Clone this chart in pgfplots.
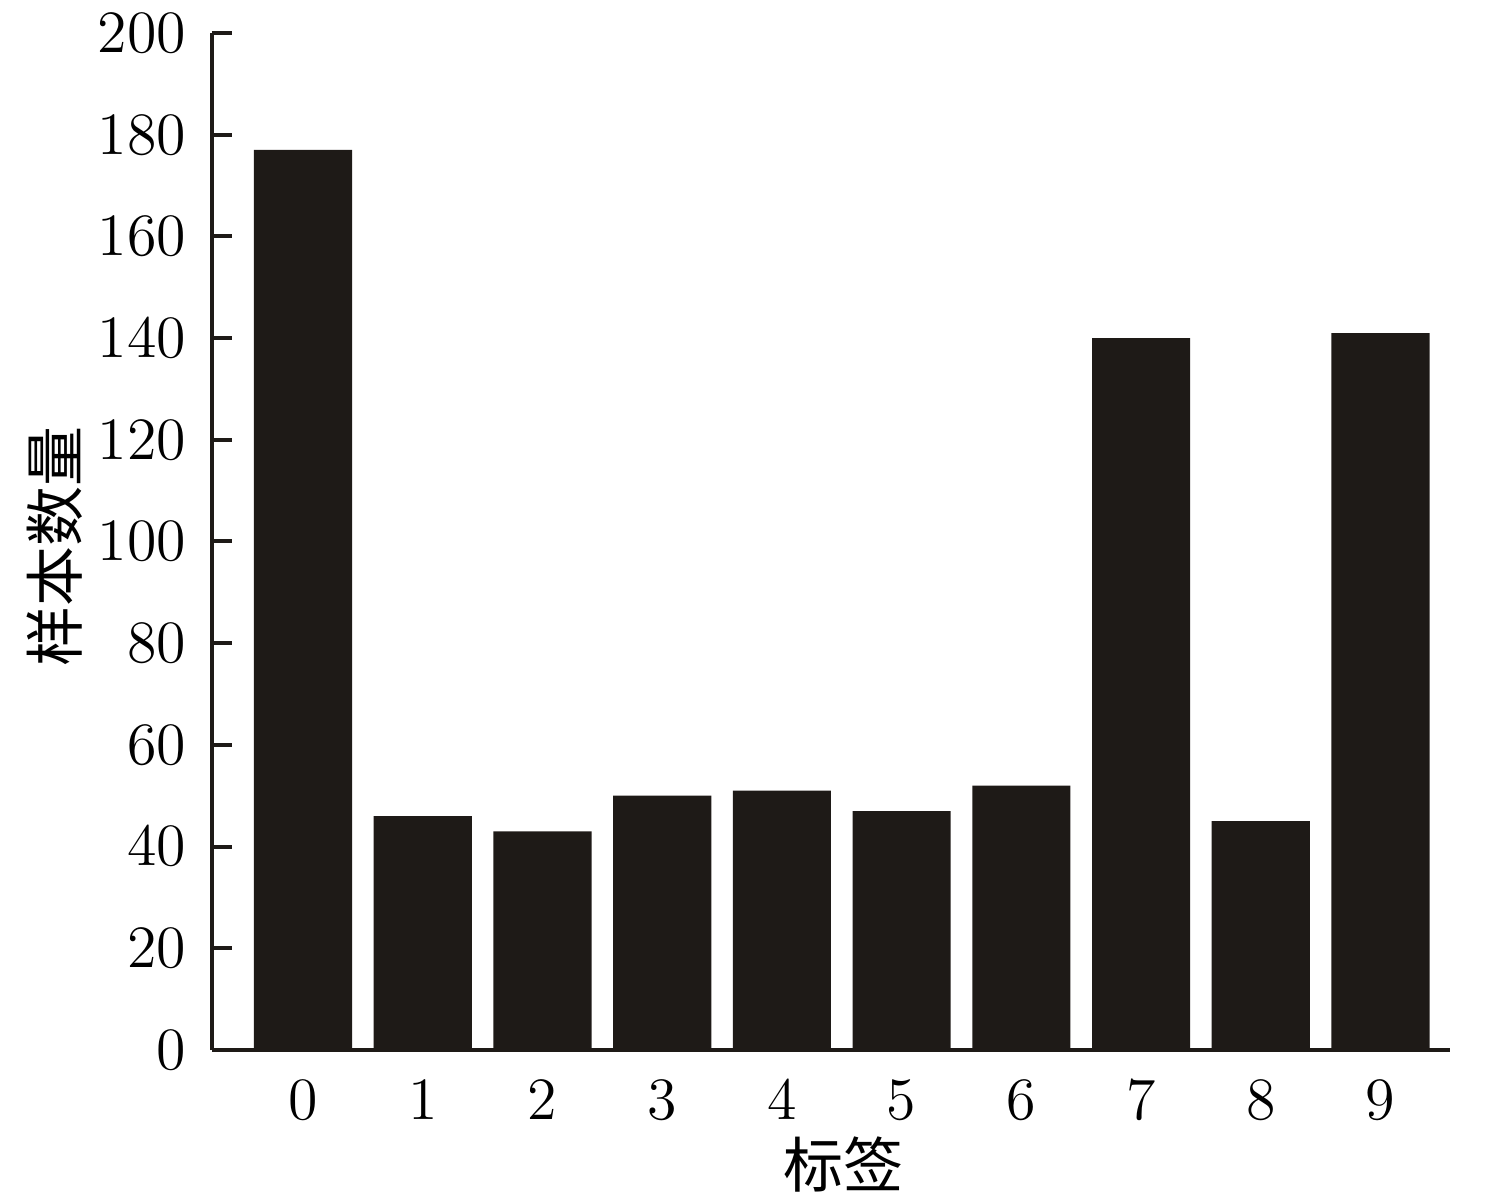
\documentclass[border=0pt]{standalone}
\usepackage{pgfplots}
\pgfplotsset{compat=1.18}
\usepackage{fontspec}
\newfontfamily\cjk{Noto Sans CJK SC}
\definecolor{barc}{RGB}{30,26,23}
\begin{document}
\begin{tikzpicture}
\begin{axis}[
  at={(0,0)}, anchor=south west,
  scale only axis,
  width=247.6pt, height=203.4pt,
  xmin=-0.76, xmax=9.58,
  ymin=0, ymax=200,
  axis lines*=left,
  axis line style={line width=0.8pt, color=barc, -},
  xtick={0,...,9},
  xtick style={draw=none},
  ytick={0,20,...,200},
  ytick style={line width=0.8pt, color=barc},
  tick align=inside,
  major tick length=4pt,
  tick label style={font=\fontsize{12}{14}\selectfont},
  xticklabel style={anchor=center, yshift=-10pt},
  yticklabel style={xshift=-1.7pt},
  xlabel={\cjk 标签},
  ylabel={\cjk 样本数量},
  label style={font=\fontsize{12}{14}\selectfont},
  xlabel style={at={(axis description cs:0.51,-0.113)}, anchor=center},
  ylabel style={at={(axis description cs:-0.127,0.495)}, anchor=center},
  clip=false,
]
\addplot[ybar, bar width=0.82, fill=barc, draw=none] coordinates {
(0,177) (1,46) (2,43) (3,50) (4,51) (5,47) (6,52) (7,140) (8,45) (9,141)
};
\end{axis}
\pgfresetboundingbox
\path[use as bounding box] (-42.4pt,-30.8pt) rectangle (254.8pt,210pt);
\end{tikzpicture}
\end{document}
